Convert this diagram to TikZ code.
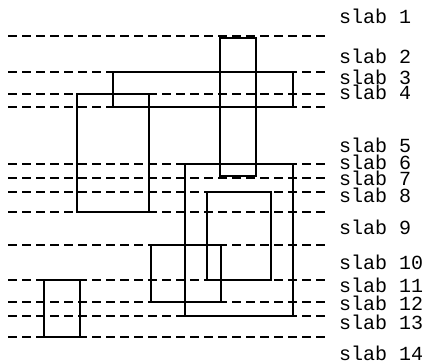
\documentclass[tikz,border=0pt]{standalone}
\usepackage{fontspec}
\setmonofont{Liberation Mono}
\usepackage{tikz}

\begin{document}
\begin{tikzpicture}[
    x=1pt, y=-1pt,
    every node/.style = {anchor=west, inner sep=0pt, font=\ttfamily\fontsize{20}{20}\selectfont},
    slabline/.style   = {line width=2pt, dash pattern=on 9pt off 5pt},
    box/.style        = {line width=2pt}
    ]
      \useasboundingbox (0,0) rectangle (434,363);

      % slab borders ---------------------------------------------
      \foreach \y in {36,72,94,107,164,178,192,212,245,280,302,316,337}
        \draw[slabline] (8,\y) -- (328,\y);

      % rectangles -----------------------------------------------
      \draw[box] (220,38)  rectangle (256,176);
      \draw[box] (113,72)  rectangle (293,107);
      \draw[box] (77,94)   rectangle (149,212);
      \draw[box] (185,164) rectangle (293,316);
      \draw[box] (207,192) rectangle (271,280);
      \draw[box] (151,245) rectangle (221,302);
      \draw[box] (44,280)  rectangle (80,337);

      % labels ---------------------------------------------------
      \node (s1)  at (339,16)  {slab 1};
      \node (s2)  at (339,56)  {slab 2};
      \node (s3)  at (339,77)  {slab 3};
      \node (s4)  at (339,92)  {slab 4};
      \node (s5)  at (339,145) {slab 5};
      \node (s6)  at (339,162) {slab 6};
      \node (s7)  at (339,178) {slab 7};
      \node (s8)  at (339,195) {slab 8};
      \node (s9)  at (339,227) {slab 9};
      \node (s10) at (339,262) {slab 10};
      \node (s11) at (339,285) {slab 11};
      \node (s12) at (339,303) {slab 12};
      \node (s13) at (339,322) {slab 13};
      \node (s14) at (339,353) {slab 14};
\end{tikzpicture}
\end{document}
